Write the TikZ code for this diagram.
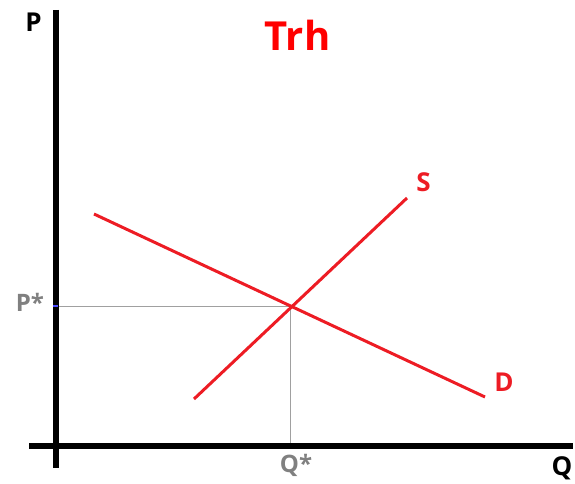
\documentclass[tikz,border=0pt]{standalone}
\usepackage{fontspec}
\setmainfont{Open Sans}
\definecolor{lred}{RGB}{237,28,36}
\definecolor{tred}{RGB}{255,0,0}
\definecolor{lgray}{RGB}{128,128,128}
\definecolor{tgray}{RGB}{160,160,160}
\begin{document}
\begin{tikzpicture}[x=1pt,y=-1pt,
  axis/.style={line width=6pt,black},
  curve/.style={line width=3pt,lred},
  guide/.style={line width=1pt,tgray},
  lbl/.style={font=\bfseries\fontsize{26}{26}\selectfont,inner sep=0pt},
  glbl/.style={font=\bfseries\fontsize{24}{24}\selectfont,inner sep=0pt,text=lgray}]
\useasboundingbox (0,0) rectangle (575,484);
\coordinate (ytop) at (55.5,10);
\coordinate (ybot) at (55.5,468);
\coordinate (xl) at (29,446);
\coordinate (xr) at (573,446);
\coordinate (E) at (290,306);
\coordinate (pa) at (55.5,306);
\coordinate (qa) at (290,446);
\coordinate (s1) at (194,399);
\coordinate (s2) at (407,198);
\coordinate (d1) at (94,214);
\coordinate (d2) at (485,397);
\draw[guide] (pa) -- (E);
\draw[guide] (E) -- (qa);
\draw[axis] (ytop) -- (ybot);
\draw[axis] (xl) -- (xr);
\draw[line width=2pt,blue!70] (53,306) -- (58,306);
\draw[curve] (d1) -- (d2);
\draw[curve] (s1) -- (s2);
\node[lbl] (P) at (33.5,22) {P};
\node[lbl,anchor=north] (Q) at (562,456) {Q};
\node[glbl] (Ps) at (30,302) {P*};
\node[glbl] (Qs) at (296,465) {Q*};
\node[font=\bfseries\fontsize{40}{40}\selectfont,inner sep=0pt,text=tred] (T) at (297.5,35) {Trh};
\node[lbl,text=lred] (S) at (423.5,182) {S};
\node[lbl,text=lred] (D) at (504,382) {D};
\end{tikzpicture}
\end{document}
